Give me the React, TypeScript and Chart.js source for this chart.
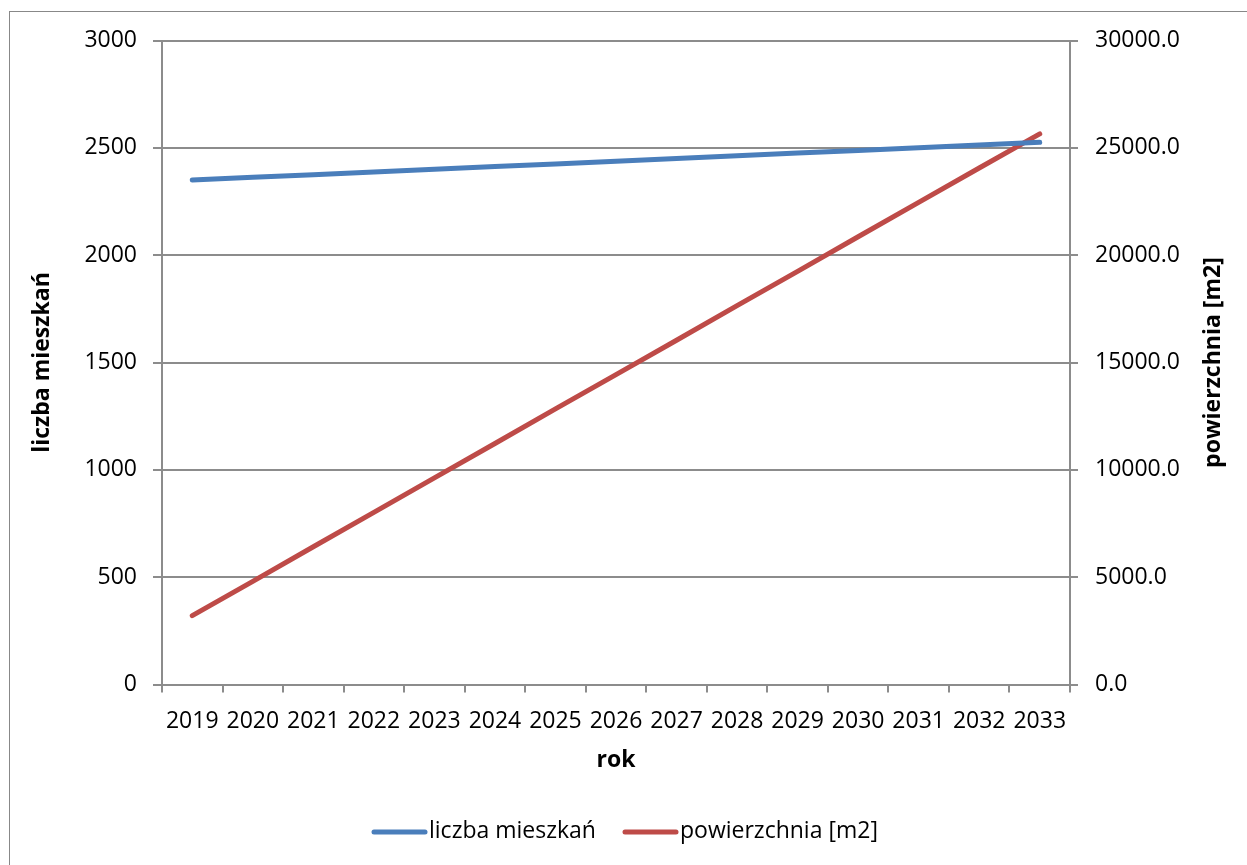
import React, { useEffect, useRef } from "react";
import { Chart, registerables } from "chart.js";

Chart.register(...registerables);

const years = ["2019", "2020", "2021", "2022", "2023", "2024", "2025", "2026", "2027", "2028", "2029", "2030", "2031", "2032", "2033"];
const liczbaMieszkan = [2350, 2363, 2375, 2388, 2400, 2413, 2425, 2438, 2450, 2463, 2476, 2488, 2501, 2513, 2526];
const powierzchnia = [3210, 4810, 6420, 8020, 9630, 11230, 12840, 14440, 16040, 17650, 19250, 20860, 22460, 24060, 25650];
const seriesNames = ["liczba mieszkań", "powierzchnia [m2]"];
const axisTitles = { x: "rok", left: "liczba mieszkań", right: "powierzchnia [m2]" };

const FONT = "'Open Sans', 'Noto Sans', sans-serif";
const BLUE = "#4a7ebb";
const RED = "#be4b48";
const AXIS_GRAY = "#8c8c8c";

const W = 1247;
const H = 865;

// Draws the rotated axis titles, the "rok" title and the line legend below the plot.
const decorations = {
  id: "decorations",
  afterDraw(chart: Chart) {
    const { ctx, chartArea } = chart;
    const midY = (chartArea.top + chartArea.bottom) / 2;
    const midX = (chartArea.left + chartArea.right) / 2;
    ctx.save();
    ctx.fillStyle = "#000";
    ctx.font = `bold 23px ${FONT}`;
    ctx.textAlign = "center";
    ctx.textBaseline = "middle";

    ctx.save();
    ctx.translate(42, midY);
    ctx.rotate(-Math.PI / 2);
    ctx.fillText(axisTitles.left, 0, 0);
    ctx.restore();

    ctx.save();
    ctx.translate(1213, midY);
    ctx.rotate(-Math.PI / 2);
    ctx.fillText(axisTitles.right, 0, 0);
    ctx.restore();

    ctx.fillText(axisTitles.x, midX, 760);

    // legend
    ctx.font = `23px ${FONT}`;
    ctx.textAlign = "left";
    const items = [
      { x: 374, color: BLUE, label: seriesNames[0] },
      { x: 625, color: RED, label: seriesNames[1] },
    ];
    const ly = 832;
    for (const it of items) {
      ctx.strokeStyle = it.color;
      ctx.lineWidth = 5;
      ctx.lineCap = "round";
      ctx.beginPath();
      ctx.moveTo(it.x, ly);
      ctx.lineTo(it.x + 51, ly);
      ctx.stroke();
      ctx.fillText(it.label, it.x + 55, ly - 1);
    }
    ctx.restore();
  },
};

export default function App() {
  const canvasRef = useRef<HTMLCanvasElement | null>(null);

  useEffect(() => {
    if (!canvasRef.current) return;
    const chart = new Chart(canvasRef.current, {
      type: "line",
      data: {
        labels: years,
        datasets: [
          {
            label: seriesNames[0],
            data: liczbaMieszkan,
            borderColor: BLUE,
            backgroundColor: BLUE,
            borderWidth: 5,
            borderCapStyle: "round",
            borderJoinStyle: "round",
            pointRadius: 0,
            tension: 0,
            yAxisID: "y",
          },
          {
            label: seriesNames[1],
            data: powierzchnia,
            borderColor: RED,
            backgroundColor: RED,
            borderWidth: 5,
            borderCapStyle: "round",
            borderJoinStyle: "round",
            pointRadius: 0,
            tension: 0,
            yAxisID: "y1",
          },
        ],
      },
      options: {
        responsive: false,
        animation: false,
        layout: { padding: { top: 40.5, left: 0, right: 0, bottom: 0 } },
        plugins: {
          legend: { display: false },
          tooltip: { enabled: false },
        },
        scales: {
          x: {
            type: "category",
            offset: true,
            grid: {
              offset: true,
              drawOnChartArea: false,
              drawTicks: true,
              tickLength: 8,
              color: AXIS_GRAY,
              lineWidth: 2,
            },
            border: { color: AXIS_GRAY, width: 2 },
            ticks: {
              color: "#000",
              font: { family: FONT, size: 23 },
              padding: 15,
              maxRotation: 0,
              autoSkip: false,
            },
            afterFit: (scale: any) => {
              scale.height = H - 684.6;
            },
          },
          y: {
            position: "left",
            min: 0,
            max: 3000,
            ticks: {
              stepSize: 500,
              color: "#000",
              font: { family: FONT, size: 23 },
              padding: 16,
              callback: (v: any) => String(Math.round(Number(v))),
            },
            grid: {
              drawOnChartArea: true,
              tickLength: 9,
              color: AXIS_GRAY,
              lineWidth: 2,
            },
            border: { color: AXIS_GRAY, width: 2 },
            afterFit: (scale: any) => {
              scale.width = 162;
            },
          },
          y1: {
            position: "right",
            min: 0,
            max: 30000,
            ticks: {
              stepSize: 5000,
              color: "#000",
              font: { family: FONT, size: 23 },
              padding: 17,
              callback: (v: any) => Number(v).toFixed(1),
            },
            grid: {
              drawOnChartArea: false,
              tickLength: 8,
              color: AXIS_GRAY,
              lineWidth: 2,
            },
            border: { color: AXIS_GRAY, width: 2 },
            afterFit: (scale: any) => {
              scale.width = W - 1070;
            },
          },
        },
      },
      plugins: [decorations],
    });
    return () => chart.destroy();
  }, []);

  return (
    <div style={{ position: "fixed", left: 0, top: 0, width: W, height: H, background: "#fff", overflow: "hidden" }}>
      <div
        style={{
          position: "absolute",
          left: 9,
          top: 11,
          width: W + 20,
          height: H + 20,
          border: "1.5px solid #888",
          boxSizing: "border-box",
        }}
      />
      <canvas ref={canvasRef} width={W} height={H} style={{ position: "absolute", left: 0, top: 0, width: W, height: H }} />
    </div>
  );
}
